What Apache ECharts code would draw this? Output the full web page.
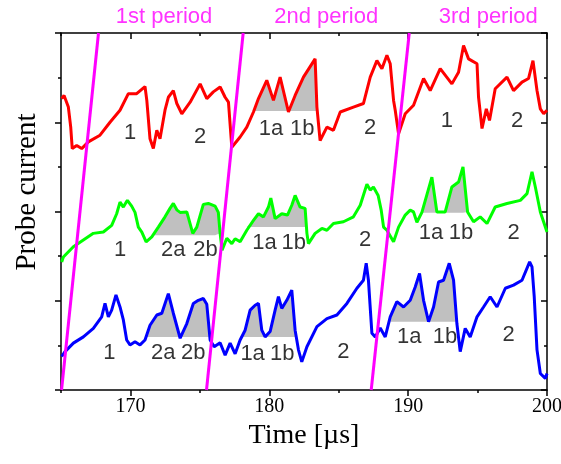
<!DOCTYPE html>
<html><head><meta charset="utf-8">
<script src="https://cdn.jsdelivr.net/npm/echarts@6/dist/echarts.min.js"></script>
<style>html,body{margin:0;padding:0;background:#fff}#c{width:561px;height:464px}</style>
</head><body><div id="c"></div>
<script>
// ---- data (time in µs, probe current in arbitrary units 0..8) ----
const majorX = [170, 180, 190, 200];
const minorX = [165, 175, 185, 195];
const majorY = [0, 2, 4, 6, 8];
const minorY = [1, 3, 5, 7];

const redTrace = [[165.05,6.53],[165.22,6.60],[165.53,6.34],[165.70,5.89],[165.81,5.41],[166.13,5.48],[166.49,5.41],[166.97,5.56],[167.81,5.71],[168.53,6.00],[169.25,6.27],[169.85,6.64],[170.45,6.64],[171.05,6.80],[171.18,6.49],[171.41,5.63],[171.65,5.41],[171.90,5.82],[172.13,5.63],[172.49,6.27],[172.73,6.56],[173.09,6.71],[173.34,6.42],[173.70,6.19],[174.30,6.45],[175.02,6.86],[175.50,6.53],[175.97,6.68],[176.46,6.79],[176.82,6.56],[177.06,6.45],[177.30,5.44],[177.90,5.67],[178.38,5.89],[178.86,6.23],[179.22,6.53],[179.82,6.94],[180.30,6.49],[180.78,7.01],[181.38,6.23],[181.86,6.60],[182.46,7.01],[183.30,7.42],[183.43,6.34],[183.66,5.59],[184.15,5.89],[184.62,5.82],[185.11,6.23],[186.06,6.34],[186.78,6.42],[187.27,7.01],[187.75,7.38],[188.11,7.20],[188.47,7.50],[188.71,7.31],[188.95,6.49],[189.07,6.27],[189.31,5.74],[189.79,6.19],[190.39,6.38],[191.11,6.98],[191.59,6.71],[192.31,7.20],[193.15,6.86],[193.63,7.12],[193.99,7.72],[194.35,7.42],[194.96,7.31],[195.07,6.56],[195.32,5.86],[195.63,6.30],[195.86,6.04],[196.27,6.75],[197.12,7.01],[197.59,6.71],[198.20,6.90],[198.67,6.98],[198.99,7.38],[199.28,6.71],[199.52,6.30],[199.76,6.19],[200.00,6.27]];

const greenTrace = [[165.05,2.87],[165.17,2.98],[165.89,3.21],[166.61,3.36],[167.33,3.51],[168.05,3.54],[168.65,3.69],[169.01,3.95],[169.25,4.21],[169.49,4.10],[169.78,4.25],[170.09,4.12],[170.33,3.98],[170.57,3.65],[170.82,3.54],[171.13,3.32],[171.54,3.43],[172.01,3.65],[172.49,3.88],[172.85,4.07],[173.09,4.18],[173.36,4.03],[173.58,3.98],[174.06,3.99],[174.49,3.51],[174.78,3.65],[175.25,4.16],[175.61,4.18],[176.10,4.12],[176.33,3.98],[176.46,3.51],[176.60,3.13],[176.94,3.40],[177.30,3.28],[177.54,3.39],[177.90,3.32],[178.38,3.58],[178.86,3.80],[179.22,3.95],[179.58,3.88],[179.94,4.10],[180.11,4.30],[180.42,3.84],[180.90,3.95],[181.31,3.92],[181.62,4.14],[181.86,4.36],[182.22,4.10],[182.58,4.07],[182.71,3.51],[182.82,3.28],[183.30,3.51],[183.79,3.62],[184.15,3.58],[184.62,3.73],[185.34,3.77],[186.06,3.88],[186.55,4.14],[187.03,4.61],[187.27,4.48],[187.50,4.55],[187.84,4.36],[188.06,4.03],[188.23,3.65],[188.47,3.58],[188.95,3.32],[189.31,3.65],[189.79,3.92],[190.15,4.03],[190.39,3.99],[190.63,3.76],[190.99,3.98],[191.71,4.77],[192.07,3.99],[192.67,3.99],[193.15,4.55],[193.63,4.66],[193.95,5.00],[194.28,3.99],[194.71,3.77],[195.19,3.88],[195.68,3.73],[196.27,4.10],[197.12,4.18],[198.08,4.25],[198.56,4.40],[198.92,4.89],[199.16,4.55],[199.52,3.99],[200.00,3.54]];

const blueTrace = [[165.05,0.75],[165.29,0.86],[165.89,1.05],[166.61,1.19],[167.33,1.38],[167.93,1.64],[168.17,1.94],[168.41,1.64],[168.65,1.79],[168.96,2.13],[169.25,1.86],[169.49,1.57],[169.73,1.12],[169.97,1.01],[170.33,1.08],[170.69,1.01],[171.05,1.12],[171.41,1.45],[171.90,1.68],[172.26,1.72],[172.73,2.16],[173.09,1.72],[173.58,1.16],[174.06,1.49],[174.53,1.94],[174.89,2.01],[175.25,2.05],[175.50,1.92],[175.74,1.12],[176.03,0.97],[176.46,1.06],[176.82,0.78],[177.18,1.05],[177.54,0.81],[177.90,1.12],[178.26,1.34],[178.62,1.79],[178.98,1.90],[179.22,1.94],[179.46,1.34],[179.70,1.19],[180.06,1.31],[180.42,1.79],[180.66,2.09],[180.90,1.83],[181.26,2.01],[181.62,2.24],[181.86,1.34],[182.10,0.90],[182.34,0.63],[182.71,0.97],[183.43,1.42],[184.15,1.60],[184.87,1.68],[185.59,1.94],[186.31,2.28],[186.78,2.46],[186.98,2.84],[187.14,2.46],[187.39,1.27],[187.63,1.19],[187.99,1.39],[188.35,1.19],[188.71,1.64],[189.19,1.98],[189.67,1.86],[190.15,2.01],[190.51,2.31],[190.82,2.61],[191.11,2.01],[191.47,1.53],[191.83,1.86],[192.19,2.42],[192.55,2.46],[192.96,2.84],[193.27,2.46],[193.51,1.49],[193.75,0.86],[194.11,1.38],[194.47,1.19],[194.96,1.64],[195.43,1.86],[195.91,2.09],[196.40,1.86],[197.00,2.28],[197.59,2.35],[198.20,2.46],[198.75,2.87],[198.92,2.76],[199.08,2.09],[199.28,0.90],[199.52,0.37],[199.88,0.26],[200.00,0.37]];

// shaded regions: [start time, end time, baseline]
const redFills = [[178.86, 183.43, 6.25]];
const greenFills = [[171.54, 176.46, 3.47], [178.38, 182.71, 3.65], [190.99, 194.28, 3.97]];
const blueFills = [[171.05, 175.74, 1.19], [177.90, 181.86, 1.19], [188.71, 193.51, 1.53]];

// magenta sweep lines: [time at bottom, time at top]
const sweepLines = [[165.04, 167.70], [175.48, 178.12], [187.34, 190.08]];

const periodTitles = [[172.42, 8.36, '1st period'], [184.10, 8.36, '2nd period'], [195.77, 8.36, '3rd period']];

const regionLabels = [
  [169.97,5.75,'1'],[175.02,5.67,'2'],[180.12,5.86,'1a'],[182.37,5.86,'1b'],[187.27,5.88,'2'],[192.79,6.04,'1'],[197.84,6.04,'2'],
  [169.25,3.13,'1'],[173.09,3.13,'2a'],[175.40,3.13,'2b'],[179.65,3.30,'1a'],[181.76,3.30,'1b'],[186.91,3.37,'2'],[191.65,3.51,'1a'],[193.81,3.51,'1b'],[197.59,3.51,'2'],
  [168.48,0.82,'1'],[172.37,0.82,'2a'],[174.53,0.82,'2b'],[178.80,0.81,'1a'],[180.93,0.81,'1b'],[185.34,0.86,'2'],[190.08,1.19,'1a'],[192.65,1.19,'1b'],[197.23,1.23,'2']
];

// ---- chart ----
const BLACK = {color: '#000', width: 1.5};
const SERIF = 'Liberation Serif, Times New Roman, serif';
const SANS = 'Liberation Sans, Arial, sans-serif';

function xAxisDef(pos, ticks, len, inside, showLine, extra) {
  return Object.assign({
    type: 'value', position: pos, min: 165, max: 200, interval: 5,
    axisLine: {show: showLine, onZero: false, lineStyle: BLACK},
    axisTick: {show: true, inside: inside, length: len, customValues: ticks, lineStyle: BLACK},
    axisLabel: {show: false}, splitLine: {show: false}
  }, extra || {});
}
function yAxisDef(pos, ticks, len, inside, showLine, extra) {
  return Object.assign({
    type: 'value', position: pos, min: 0, max: 8, interval: 1,
    axisLine: {show: showLine, onZero: false, lineStyle: BLACK},
    axisTick: {show: true, inside: inside, length: len, customValues: ticks, lineStyle: BLACK},
    axisLabel: {show: false}, splitLine: {show: false}
  }, extra || {});
}

const series = [];
function addFills(trace, fills) {
  fills.forEach(([a, b, base]) => {
    const pts = trace.filter(p => p[0] >= a - 1e-6 && p[0] <= b + 1e-6).map(p => [p[0], Math.max(p[1], base)]);
    series.push({type: 'line', data: pts, showSymbol: false, silent: true, z: 1,
      lineStyle: {width: 0, opacity: 0}, areaStyle: {color: '#c0c0c0', opacity: 1, origin: base}});
  });
}
addFills(redTrace, redFills);
addFills(greenTrace, greenFills);
addFills(blueTrace, blueFills);

[[redTrace, '#ff0000'], [greenTrace, '#00ff00'], [blueTrace, '#0000ff']].forEach(([d, c]) => {
  series.push({type: 'line', data: d, showSymbol: false, z: 2, lineStyle: {color: c, width: 3}, itemStyle: {color: c}});
});

sweepLines.forEach(([b, t]) => {
  series.push({type: 'line', data: [[b, 0], [t, 8]], showSymbol: false, z: 3, clip: true,
    lineStyle: {color: '#ff00ff', width: 3}});
});

series.push({type: 'scatter', data: regionLabels, symbolSize: 1, z: 4, itemStyle: {color: 'rgba(0,0,0,0)'},
  label: {show: true, position: 'inside', formatter: p => p.data[2], color: '#000', fontFamily: SANS, fontSize: 22}});
series.push({type: 'scatter', data: periodTitles, symbolSize: 1, z: 4, clip: false, itemStyle: {color: 'rgba(0,0,0,0)'},
  label: {show: true, position: 'inside', formatter: p => p.data[2], color: '#ff00ff', fontFamily: SANS, fontSize: 22}});

const chart = echarts.init(document.getElementById('c'), null, {renderer: 'canvas'});
chart.setOption({
  animation: false,
  backgroundColor: '#fff',
  grid: {left: 61, right: 14, top: 33, bottom: 74, containLabel: false, outerBoundsMode: 'none'},
  graphic: [{
    type: 'text', x: 27, y: 192, rotation: Math.PI / 2,
    style: {text: 'Probe current', font: '29px "Liberation Serif", serif', fill: '#000',
      textAlign: 'center', textVerticalAlign: 'middle', align: 'center', verticalAlign: 'middle'}
  }],
  xAxis: [
    xAxisDef('bottom', majorX, 6, false, true, {
      axisLabel: {show: true, customValues: majorX, fontFamily: SERIF, fontSize: 20, color: '#000', margin: 7},
      name: 'Time [\u00b5s]', nameLocation: 'middle', nameGap: 32,
      nameTextStyle: {fontFamily: SERIF, fontSize: 28, color: '#000'}
    }),
    xAxisDef('bottom', minorX, 3, false, false),
    xAxisDef('top', majorX, 6, true, true),
    xAxisDef('top', minorX, 3, true, false)
  ],
  yAxis: [
    yAxisDef('left', majorY, 6, false, true),
    yAxisDef('left', minorY, 3, false, false),
    yAxisDef('right', majorY, 6, true, true),
    yAxisDef('right', minorY, 3, true, false)
  ],
  series: series
});
</script></body></html>
